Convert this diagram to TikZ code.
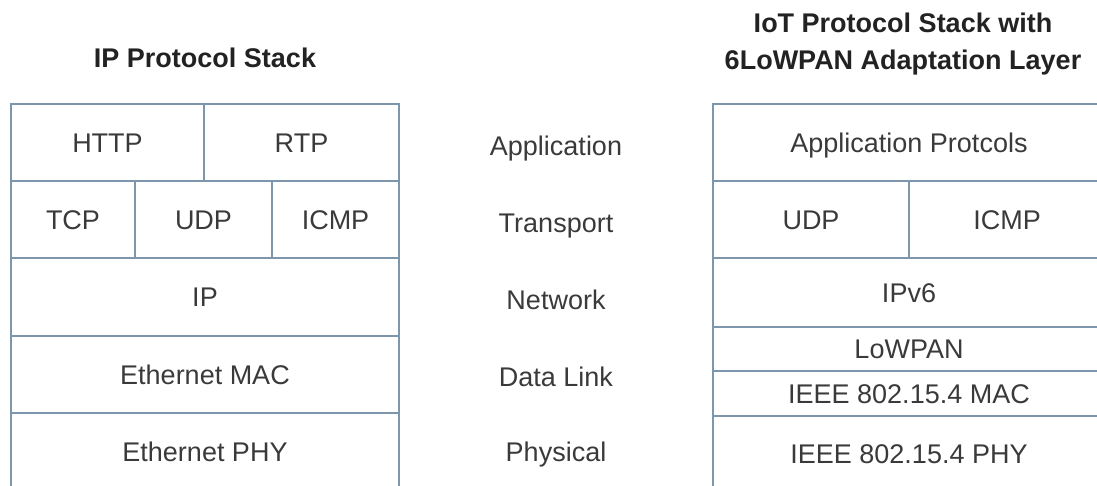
\documentclass[tikz,border=0pt]{standalone}
\usepackage{fontspec}
\setmainfont{Liberation Sans}
\begin{document}
\begin{tikzpicture}[x=1pt,y=-1pt,
  linec/.style={draw={rgb,255:red,125;green,150;blue,172}, line width=2pt},
  cell/.style={linec, rectangle, inner sep=0pt, outer sep=0pt, anchor=center,
    text={rgb,255:red,58;green,58;blue,58}, font=\fontsize{27}{32}\selectfont,
    text height=19.3pt, text depth=0pt},
  layer/.style={inner sep=0pt, text={rgb,255:red,58;green,58;blue,58},
    font=\fontsize{27}{32}\selectfont, text height=19.3pt, text depth=0pt},
  title/.style={inner sep=0pt, align=center, text={rgb,255:red,34;green,34;blue,34},
    font=\fontsize{27}{37}\bfseries\selectfont}]
\useasboundingbox (0,0) rectangle (1097,486);
\clip (0,0) rectangle (1097,486);
% titles
\node[title, text height=19.3pt, text depth=0pt] (t1) at (205,58) {IP Protocol Stack};
\node[title] (t2) at (903,44.5) {IoT Protocol Stack with\\6LoWPAN Adaptation Layer};
% left stack
\node[cell, minimum width=193pt, minimum height=77pt] (http) at (107.5,142.5) {HTTP};
\node[cell, minimum width=195pt, minimum height=77pt] (rtp) at (301.5,142.5) {RTP};
\node[cell, minimum width=124pt, minimum height=77pt] (tcp) at (73,219.5) {TCP};
\node[cell, minimum width=137pt, minimum height=77pt] (udp) at (203.5,219.5) {UDP};
\node[cell, minimum width=127pt, minimum height=77pt] (icmp) at (335.5,219.5) {ICMP};
\node[cell, minimum width=388pt, minimum height=78pt] (ip) at (205,297) {IP};
\node[cell, minimum width=388pt, minimum height=77pt] (emac) at (205,374.5) {Ethernet MAC};
\node[cell, minimum width=388pt, minimum height=77pt] (ephy) at (205,451.5) {Ethernet PHY};
% middle layer names
\node[layer] (lapp) at (556,146) {Application};
\node[layer] (ltra) at (556,223) {Transport};
\node[layer] (lnet) at (556,300) {Network};
\node[layer] (ldl) at (556,377) {Data Link};
\node[layer] (lphy) at (556,452) {Physical};
% right stack
\node[cell, minimum width=392pt, minimum height=77pt] (app) at (909,142.5) {Application Protcols};
\node[cell, minimum width=196pt, minimum height=77pt] (udp2) at (811,219.5) {UDP};
\node[cell, minimum width=196pt, minimum height=77pt] (icmp2) at (1007,219.5) {ICMP};
\node[cell, minimum width=392pt, minimum height=69pt] (ipv6) at (909,292.5) {IPv6};
\node[cell, minimum width=392pt, minimum height=44pt] (lowpan) at (909,349) {LoWPAN};
\node[cell, minimum width=392pt, minimum height=45pt] (mac) at (909,393.5) {IEEE 802.15.4 MAC};
\node[cell, minimum width=392pt, minimum height=76pt] (phy) at (909,454) {IEEE 802.15.4 PHY};
\end{tikzpicture}
\end{document}
